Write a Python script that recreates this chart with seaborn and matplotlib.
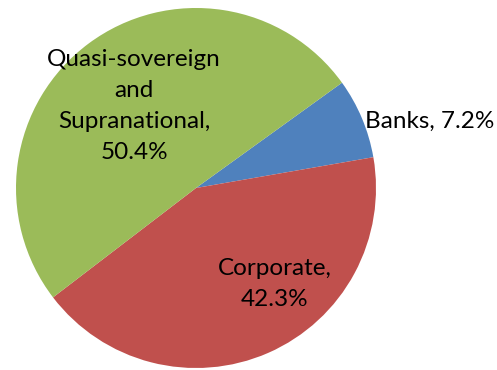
import matplotlib
matplotlib.use("Agg")
import matplotlib.pyplot as plt
import seaborn as sns

categories = ["Banks", "Corporate", "Quasi-sovereign\nand\nSupranational"]
shares = [7.2, 42.3, 50.4]
colors = ["#4F81BD", "#C0504D", "#9BBB59"]
separators = [" ", "\n", "\n"]

sns.set_style("white")
plt.rcParams['font.family'] = ['Lato', 'DejaVu Sans']

W, H = 497, 370
fig = plt.figure(figsize=(W / 100, H / 100), dpi=100)
ax = fig.add_axes([0, 0, 1, 1])

cx, cy, r = 196, H - 188, 180
wedges, _ = ax.pie(shares, colors=colors, startangle=35.8, counterclock=False,
                   center=(cx, cy), radius=r, frame=True,
                   wedgeprops=dict(linewidth=0))
ax.set_xlim(0, W)
ax.set_ylim(0, H)
ax.set_aspect('equal')
ax.axis('off')

fs = 17.5
label_pos = [(430, 121), (275, 284), (134, 106)]
for cat, val, sep, (x, y) in zip(categories, shares, separators, label_pos):
    ax.text(x, H - y, f"{cat},{sep}{val}%", ha='center', va='center',
            fontsize=fs, color='black', linespacing=1.6)

fig.savefig("out.png", dpi=100)
